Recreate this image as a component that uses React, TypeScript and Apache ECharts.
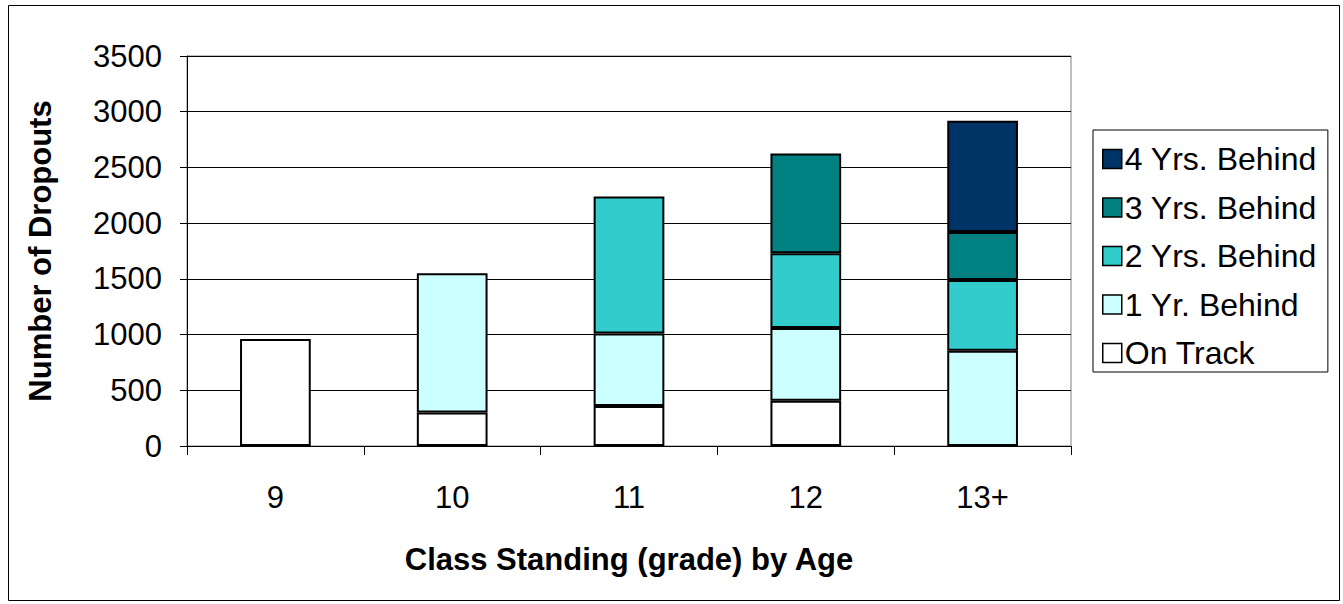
import React, { useEffect, useRef } from "react";
import * as echarts from "echarts";

const categories = ["9", "10", "11", "12", "13+"];
const seriesNames = ["On Track", "1 Yr. Behind", "2 Yrs. Behind", "3 Yrs. Behind", "4 Yrs. Behind"];
const onTrack = [960, 300, 360, 405, 0];
const oneYrBehind = [0, 1250, 650, 655, 855];
const twoYrsBehind = [0, 0, 1230, 670, 635];
const threeYrsBehind = [0, 0, 0, 895, 430];
const fourYrsBehind = [0, 0, 0, 0, 1000];
const seriesColors = ["#FFFFFF", "#CCFFFF", "#33CCCC", "#008080", "#003366"];
const yMin = 0;
const yMax = 3500;
const yStep = 500;

const FONT = "'Liberation Sans', Arial, sans-serif";

export default function App() {
  const ref = useRef<HTMLDivElement>(null);

  useEffect(() => {
    if (!ref.current) return;
    const chart = echarts.init(ref.current, null, { renderer: "svg" });
    const values = [onTrack, oneYrBehind, twoYrsBehind, threeYrsBehind, fourYrsBehind];

    chart.setOption({
      animation: false,
      backgroundColor: "#FFFFFF",
      textStyle: { fontFamily: FONT, color: "#000" },
      graphic: [
        {
          type: "rect",
          silent: true,
          z: -10,
          shape: { x: 8.5, y: 5.5, width: 1331, height: 595 },
          style: { fill: "none", stroke: "#000", lineWidth: 1 },
        },
      ],
      grid: {
        left: 187,
        top: 56,
        right: 272,
        bottom: 158,
        show: true,
        borderColor: "#808080",
        borderWidth: 1,
        backgroundColor: "transparent",
      },
      legend: {
        orient: "vertical",
        left: 1093,
        top: 130,
        data: [...seriesNames].reverse(),
        icon: "rect",
        itemWidth: 19,
        itemHeight: 19,
        itemGap: 12.5,
        padding: [11, 11, 1, 9],
        borderColor: "#000",
        borderWidth: 1,
        itemStyle: { borderColor: "#000", borderWidth: 1.5 },
        textStyle: { fontFamily: FONT, fontSize: 32, color: "#000", lineHeight: 36, padding: [0, 0, 0, -2] },
      },
      xAxis: {
        type: "category",
        data: categories,
        name: "Class Standing (grade) by Age",
        nameLocation: "middle",
        nameGap: 98,
        nameTextStyle: { fontFamily: FONT, fontSize: 31, fontWeight: "bold", color: "#000" },
        axisLine: { lineStyle: { color: "#000", width: 1 } },
        axisTick: { show: true, length: 9, lineStyle: { color: "#000" }, alignWithLabel: false },
        axisLabel: { fontFamily: FONT, fontSize: 31, color: "#000", margin: 36 },
        splitLine: { show: false },
      },
      yAxis: {
        type: "value",
        min: yMin,
        max: yMax,
        interval: yStep,
        name: "Number of Dropouts",
        nameLocation: "middle",
        nameRotate: 90,
        nameGap: 131,
        nameTextStyle: { fontFamily: FONT, fontSize: 31, fontWeight: "bold", color: "#000" },
        axisLine: { show: true, lineStyle: { color: "#000", width: 1 } },
        axisTick: { show: true, length: 7, lineStyle: { color: "#000" } },
        axisLabel: {
          fontFamily: FONT,
          fontSize: 31,
          color: "#000",
          margin: 25,
          padding: [6, 0, 0, 0],
          formatter: (v: number) => String(v),
        },
        splitLine: { show: true, lineStyle: { color: "#000", width: 1 } },
      },
      series: seriesNames.map((name, i) => ({
        name,
        type: "bar",
        stack: "total",
        barCategoryGap: "60%",
        data: values[i].map((v) => (v === 0 ? null : v)),
        itemStyle: { color: seriesColors[i], borderColor: "#000", borderWidth: 2 },
        emphasis: { disabled: true },
      })),
    });

    return () => chart.dispose();
  }, []);

  return (
    <div
      ref={ref}
      style={{ position: "absolute", left: 0, top: 0, width: 1343, height: 604 }}
    />
  );
}
